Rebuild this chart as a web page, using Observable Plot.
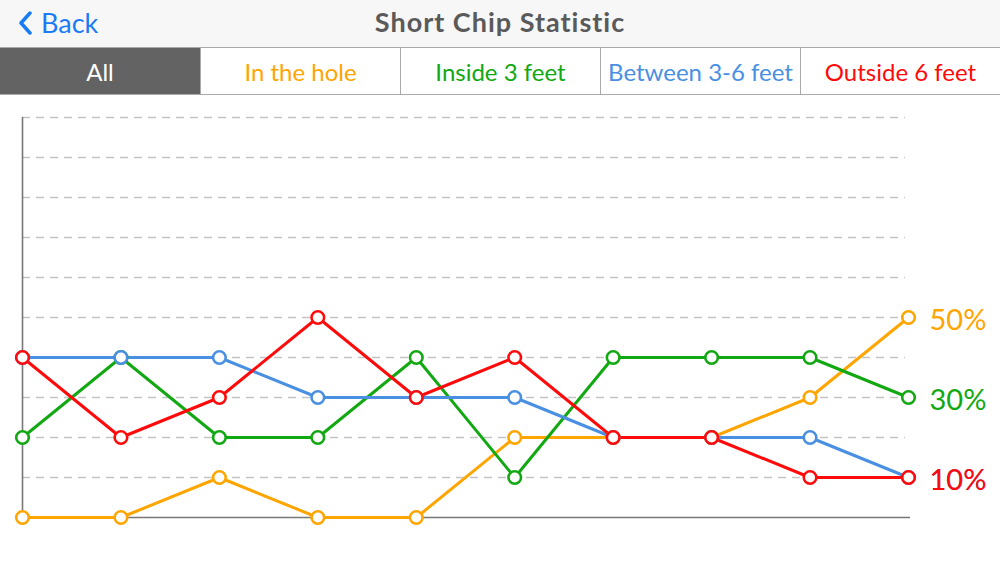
<!DOCTYPE html>
<html>
<head>
<meta charset="utf-8">
<script src="https://cdn.jsdelivr.net/npm/d3@7"></script>
<script src="https://cdn.jsdelivr.net/npm/@observablehq/plot@0.6"></script>
<style>
  html, body { margin: 0; padding: 0; background: #fff; font-family: Lato, "Open Sans", sans-serif; }
  #page { width: 1000px; height: 563px; overflow: hidden; position: relative; }
  #header { height: 47px; background: #f7f7f7; position: relative; }
  #back { position: absolute; left: 18px; top: 6px; color: #1a7cf5; font-size: 27px; display: flex; align-items: center; }
  #back svg { margin-right: 9px; }
  #title { position: absolute; left: 0; right: 0; top: 5px; text-align: center; font-size: 27px; font-weight: 700; color: #5a5a5a; letter-spacing: 1px; }
  #tabs { display: flex; height: 46px; border-top: 1px solid #aaa; border-bottom: 1px solid #aaa; box-sizing: content-box; }
  .tab { width: 200px; box-sizing: border-box; display: flex; align-items: center; justify-content: center; font-size: 24px; border-left: 1px solid #aaa; background: #fff; }
  .tab:first-child { border-left: none; }
  .tab.sel { background: #636363; color: #fff; }
  #chart svg { display: block; }
</style>
</head>
<body>
<div id="page">
  <div id="header">
    <div id="back"><svg width="14" height="24" viewBox="0 0 14 24"><polyline points="12,2 3,12 12,22" fill="none" stroke="#1a7cf5" stroke-width="3.5" stroke-linecap="round" stroke-linejoin="round"/></svg>Back</div>
    <div id="title">Short Chip Statistic</div>
  </div>
  <div id="tabs"></div>
  <div id="chart"></div>
</div>
<script>
// ---- data ----
const tabLabels = ["All", "In the hole", "Inside 3 feet", "Between 3-6 feet", "Outside 6 feet"];
const seriesNames = ["In the hole", "Inside 3 feet", "Between 3-6 feet", "Outside 6 feet"];
const seriesColors = ["#ffa500", "#12a812", "#4a90e2", "#ff0a0a"];
const rounds = [0, 1, 2, 3, 4, 5, 6, 7, 8, 9];
const inTheHole = [0, 0, 10, 0, 0, 20, 20, 20, 30, 50];
const inside3 = [20, 40, 20, 20, 40, 10, 40, 40, 40, 30];
const between36 = [40, 40, 40, 30, 30, 30, 20, 20, 20, 10];
const outside6 = [40, 20, 30, 50, 30, 40, 20, 20, 10, 10];
const gridTicks = [10, 20, 30, 40, 50, 60, 70, 80, 90, 100];

// ---- tabs ----
const tabs = document.getElementById("tabs");
tabLabels.forEach((t, i) => {
  const d = document.createElement("div");
  d.className = "tab" + (i === 0 ? " sel" : "");
  d.textContent = t;
  if (i > 0) d.style.color = seriesColors[i - 1];
  tabs.appendChild(d);
});

// ---- table ----
const allValues = [inTheHole, inside3, between36, outside6];
const rows = [];
allValues.forEach((vals, s) => {
  vals.forEach((v, i) => rows.push({series: seriesNames[s], x: rounds[i], y: v, color: seriesColors[s]}));
});
const lastRows = allValues.map((vals, s) => ({series: seriesNames[s], x: rounds[rounds.length - 1], y: vals[vals.length - 1], color: seriesColors[s]}));

const chart = Plot.plot({
  width: 1000,
  height: 467,
  marginLeft: 22,
  marginRight: 92,
  marginTop: 22,
  marginBottom: 45,
  x: {type: "linear", domain: [0, 9], axis: null},
  y: {type: "linear", domain: [0, 100], axis: null},
  style: {fontFamily: "Lato, 'Open Sans', sans-serif", background: "transparent"},
  marks: [
    Plot.ruleY(gridTicks, {x1: 0, x2: 8.97, stroke: "#c4c4c4", strokeWidth: 1.3, strokeDasharray: "8,6"}),
    Plot.ruleX([0], {y1: 0, y2: 100, stroke: "#777", strokeWidth: 1.6}),
    Plot.ruleY([0], {x1: 0, x2: 9.02, stroke: "#777", strokeWidth: 1.6}),
    Plot.line(rows, {x: "x", y: "y", z: "series", stroke: "color", strokeWidth: 3}),
    Plot.dot(rows, {x: "x", y: "y", r: 6.3, fill: "#fff", stroke: "color", strokeWidth: 2.6}),
    Plot.text(lastRows, {x: "x", y: "y", text: d => d.y + "%", fill: "color", dx: 21, dy: 3, textAnchor: "start", fontSize: 29})
  ]
});
document.getElementById("chart").appendChild(chart);
</script>
</body>
</html>
